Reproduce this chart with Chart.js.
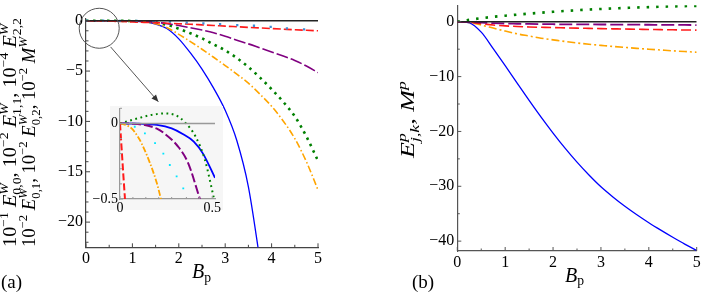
<!DOCTYPE html>
<html lang="en">
<head>
<meta charset="UTF-8">
<title>Energy corrections against B_p</title>
<script src="https://cdn.jsdelivr.net/npm/chart.js@4.4.0/dist/chart.umd.min.js"></script>
<style>
  body { margin: 0; background: #fff; }
  #wrap { position: relative; width: 706px; height: 298px; overflow: hidden; }
  canvas { position: absolute; }
</style>
</head>
<body>
<div id="wrap">
  <canvas id="chartA" width="345" height="298" style="left:0;top:0"></canvas>
  <canvas id="chartB" width="361" height="298" style="left:345px;top:0"></canvas>
  <canvas id="inset" width="150" height="115" style="left:80px;top:100px"></canvas>
</div>
<script>
// values
const Bp = [0, 0.25, 0.5, 0.75, 1, 1.25, 1.5, 1.75, 2, 2.25, 2.5, 2.75, 3, 3.25, 3.5, 3.75, 4, 4.25, 4.5, 4.75, 5];

// panel (a)
const aBlue   = [0, 0, 0, -0.01, -0.04, -0.1, -0.35, -0.8, -1.8, -3.2, -4.8, -6.7, -8.9, -11.9, -16.5, -23.8, null, null, null, null, null];
const aGreen  = [0, 0, 0, -0.01, -0.03, -0.08, -0.18, -0.42, -0.8, -1.25, -1.75, -2.35, -2.95, -3.7, -4.6, -5.65, -6.8, -8.05, -9.5, -11.5, -13.9];
const aOrange = [0, 0, -0.01, -0.01, -0.03, -0.1, -0.3, -0.7, -1.35, -2.07, -2.83, -3.63, -4.45, -5.3, -6.2, -7.3, -8.5, -9.95, -11.7, -14.0, -16.8];
const aPurple = [0, 0, 0, -0.01, -0.04, -0.08, -0.16, -0.3, -0.48, -0.7, -0.93, -1.2, -1.55, -1.93, -2.3, -2.7, -3.1, -3.5, -3.95, -4.5, -5.16];
const aRed    = [0, -0.02, -0.05, -0.08, -0.12, -0.16, -0.2, -0.25, -0.3, -0.35, -0.41, -0.47, -0.54, -0.6, -0.66, -0.72, -0.78, -0.84, -0.9, -0.95, -1.0];
const aDotsB  = [0.01, 0.37, 0.73, 1.09, 1.45, 1.81, 2.17, 2.53, 2.89, 3.26, 3.62, 3.98, 4.33, 4.7];
const aDotsV  = [0, 0, -0.01, -0.02, -0.05, -0.1, -0.2, -0.26, -0.33, -0.43, -0.5, -0.6, -0.76, -0.86];

// inset of (a)
const inBlueB   = [0, 0.1, 0.2, 0.28, 0.34, 0.4, 0.45, 0.515];
const inBlue    = [0, -0.002, -0.01, -0.033, -0.07, -0.12, -0.2, -0.36];
const inGreenB  = [0, 0.05, 0.1, 0.17, 0.235, 0.3, 0.35, 0.41, 0.46, 0.51];
const inGreen   = [0, 0.018, 0.035, 0.056, 0.066, 0.055, 0.01, -0.088, -0.24, -0.5];
const inPurpleB = [0, 0.06, 0.135, 0.2, 0.24, 0.316, 0.37, 0.433];
const inPurple  = [0, -0.002, -0.011, -0.035, -0.066, -0.155, -0.264, -0.5];
const inOrangeB = [0, 0.03, 0.063, 0.09, 0.117, 0.163, 0.2, 0.222];
const inOrange  = [0, -0.01, -0.033, -0.075, -0.132, -0.264, -0.396, -0.5];
const inRedB    = [0, 0.009, 0.018, 0.027];
const inRed     = [0, -0.17, -0.34, -0.5];
const inDotsB   = [0.03, 0.08, 0.135, 0.19, 0.235, 0.27, 0.307, 0.343];
const inDots    = [-0.003, -0.022, -0.066, -0.13, -0.2, -0.275, -0.35, -0.43];

// panel (b)
const bBlue   = [0, -0.2, -1.9, -4.9, -8.0, -11.2, -14.35, -17.4, -20.3, -23.05, -25.6, -27.95, -30.1, -31.95, -33.65, -35.2, -36.65, -38.0, -39.3, -40.55, -41.7];
const bGreen  = [0, 0.35, 0.65, 0.9, 1.1, 1.3, 1.48, 1.65, 1.82, 1.97, 2.1, 2.22, 2.33, 2.43, 2.52, 2.6, 2.67, 2.74, 2.8, 2.85, 2.9];
const bOrange = [0, -0.15, -0.6, -1.15, -1.7, -2.2, -2.6, -3.0, -3.3, -3.6, -3.87, -4.1, -4.3, -4.5, -4.68, -4.85, -5.0, -5.15, -5.3, -5.43, -5.55];
const bRed    = [0, -0.1, -0.35, -0.6, -0.75, -0.87, -0.95, -1.01, -1.07, -1.12, -1.17, -1.21, -1.25, -1.29, -1.33, -1.37, -1.4, -1.44, -1.47, -1.5, -1.53];
const bPurple = [0, -0.05, -0.15, -0.25, -0.32, -0.36, -0.4, -0.43, -0.45, -0.47, -0.48, -0.49, -0.5, -0.51, -0.52, -0.53, -0.55, -0.56, -0.57, -0.58, -0.6];

// ticks
const aXTicks = [0, 1, 2, 3, 4, 5];
const aXMinor = [0.5, 1.5, 2.5, 3.5, 4.5];
const aYTicks = [0, -5, -10, -15, -20];
const aYMinor = [-1, -2, -3, -4, -6, -7, -8, -9, -11, -12, -13, -14, -16, -17, -18, -19, -21, -22];
const bXTicks = [0, 1, 2, 3, 4, 5];
const bXMinor = [0.5, 1.5, 2.5, 3.5, 4.5];
const bYTicks = [0, -10, -20, -30, -40];
const bYMinor = [-5, -15, -25, -35];
const inXTicks = [0, 0.5];
const inXMinor = [0.07, 0.14, 0.21, 0.28, 0.36, 0.43];
const inYTicks = [0, -0.5];
const inYMinor = [0.1, -0.1, -0.2, -0.3, -0.4];

const SERIF = '"Liberation Serif", serif';
Chart.defaults.font.family = SERIF;
const fmt = v => (v < 0 ? '\u2212' + Math.abs(v) : String(v));

function line(xs, ys, color, width, dash) {
  return {
    data: xs.map((x, i) => ({ x: x, y: ys[i] })),
    borderColor: color, borderWidth: width, borderDash: dash || [],
    borderCapStyle: 'butt', pointRadius: 0, fill: false,
    cubicInterpolationMode: 'monotone'
  };
}
function dots(xs, ys, color, r) {
  return {
    data: xs.map((x, i) => ({ x: x, y: ys[i] })),
    showLine: false, pointStyle: 'rect', pointRadius: r,
    pointBackgroundColor: color, pointBorderWidth: 0
  };
}

// inward tick marks
function tickMarks(xMaj, xMin, yMaj, yMin, color, big, small) {
  return {
    id: 'tickMarks',
    afterDatasetsDraw(chart) {
      const { ctx, chartArea: a, scales: { x, y } } = chart;
      ctx.save();
      ctx.strokeStyle = color;
      ctx.lineWidth = 1;
      const mark = (vals, len, horiz) => vals.forEach(v => {
        ctx.beginPath();
        if (horiz) {
          const p = x.getPixelForValue(v);
          ctx.moveTo(p, a.bottom); ctx.lineTo(p, a.bottom - len);
        } else {
          const p = y.getPixelForValue(v);
          ctx.moveTo(a.left, p); ctx.lineTo(a.left + len, p);
        }
        ctx.stroke();
      });
      mark(xMaj, big, true); mark(xMin, small, true);
      mark(yMaj, big, false); mark(yMin, small, false);
      ctx.restore();
    }
  };
}

// text with super / subscripts
function font(sz, it) { return (it ? 'italic ' : '') + sz + 'px ' + SERIF; }
function runRich(ctx, parts, sz, draw) {
  let x = 0;
  const s2 = sz * 0.68;
  parts.forEach(p => {
    if (p.t) {
      ctx.font = font(sz, p.i);
      if (draw) ctx.fillText(p.t, x, 0);
      x += ctx.measureText(p.t).width;
    }
    let w = 0;
    if (p.up) {
      ctx.font = font(s2, p.ui);
      if (draw) ctx.fillText(p.up, x, -sz * 0.42);
      w = Math.max(w, ctx.measureText(p.up).width);
    }
    if (p.dn) {
      ctx.font = font(s2, p.di);
      if (draw) ctx.fillText(p.dn, x, sz * (p.dy || 0.28));
      w = Math.max(w, ctx.measureText(p.dn).width);
    }
    x += w;
  });
  return x;
}
function drawRich(ctx, parts, sz, x, y, rot, len) {
  ctx.save();
  ctx.translate(x, y);
  ctx.rotate(rot);
  ctx.textAlign = 'left';
  ctx.textBaseline = 'alphabetic';
  ctx.fillStyle = '#000';
  const w = runRich(ctx, parts, sz, false);
  if (len) ctx.scale(len / w, 1);
  runRich(ctx, parts, sz, true);
  ctx.restore();
}

const titleA1 = [
  { t: '10', up: '\u22121' }, { t: ' ' }, { t: 'E', i: 1, up: 'W', ui: 1, dn: '0,0' },
  { t: ', 10', up: '\u22122' }, { t: ' ' }, { t: 'E', i: 1, up: 'W', ui: 1, dn: '1,1' },
  { t: ', 10', up: '\u22124' }, { t: ' ' }, { t: 'E', i: 1, up: 'W', ui: 1, dn: '2,2' }
];
const titleA2 = [
  { t: '10', up: '\u22122' }, { t: ' ' }, { t: 'E', i: 1, up: 'W', ui: 1, dn: '0,1' },
  { t: ', 10', up: '\u22122' }, { t: ' ' }, { t: 'E', i: 1, up: 'W', ui: 1, dn: '0,2' },
  { t: ', 10', up: '\u22122' }, { t: ' ' }, { t: 'M', i: 1, up: 'W', ui: 1 }
];
const titleB = [
  { t: 'E', i: 1, up: 'p', ui: 1, dn: 'j,k', di: 1 }, { t: ', ' }, { t: 'M', i: 1, up: 'p', ui: 1 }
];
const xTitle = [{ t: 'B', i: 1, dn: 'p', dy: 0.18 }];

const decoA = {
  id: 'decoA',
  afterDraw(chart) {
    const { ctx, scales: { x, y } } = chart;
    drawRich(ctx, titleA1, 18, 16, 247, -Math.PI / 2, 229);
    drawRich(ctx, titleA2, 18, 35, 247, -Math.PI / 2, 210);
    drawRich(ctx, xTitle, 20, 192, 278, 0);
    ctx.save();
    ctx.fillStyle = '#000';
    ctx.font = font(19, false);
    ctx.fillText('(a)', 1, 288);
    // zoom circle and arrow
    ctx.strokeStyle = '#555';
    ctx.fillStyle = '#333';
    ctx.lineWidth = 1;
    ctx.beginPath();
    ctx.arc(x.getPixelForValue(0.285), y.getPixelForValue(-0.75), 20, 0, 2 * Math.PI);
    ctx.stroke();
    const x0 = x.getPixelForValue(0.53), y0 = y.getPixelForValue(-2.6);
    const x1 = x.getPixelForValue(1.56), y1 = y.getPixelForValue(-8.05);
    const ang = Math.atan2(y1 - y0, x1 - x0);
    ctx.beginPath(); ctx.moveTo(x0, y0); ctx.lineTo(x1, y1); ctx.stroke();
    ctx.beginPath();
    ctx.moveTo(x1, y1);
    ctx.lineTo(x1 - 7 * Math.cos(ang) + 3 * Math.sin(ang), y1 - 7 * Math.sin(ang) - 3 * Math.cos(ang));
    ctx.lineTo(x1 - 7 * Math.cos(ang) - 3 * Math.sin(ang), y1 - 7 * Math.sin(ang) + 3 * Math.cos(ang));
    ctx.closePath(); ctx.fill();
    ctx.restore();
  }
};

const decoB = {
  id: 'decoB',
  afterDraw(chart) {
    const ctx = chart.ctx;
    drawRich(ctx, titleB, 19, 69, 158, -Math.PI / 2, 77);
    drawRich(ctx, xTitle, 20, 220, 281.5, 0);
    ctx.save();
    ctx.fillStyle = '#000';
    ctx.font = font(19, false);
    ctx.fillText('(b)', 67, 288);
    ctx.restore();
  }
};

const insetBg = {
  id: 'insetBg',
  beforeDraw(chart) {
    const ctx = chart.ctx;
    ctx.save();
    ctx.fillStyle = '#f6f6f6';
    ctx.fillRect(30, 6, 113, 104);
    ctx.restore();
  }
};

function axes(xmin, xmax, ymin, ymax, xT, yT, xH, yW, color, fsize, pad) {
  const f = { family: SERIF, size: fsize };
  return {
    x: {
      type: 'linear', min: xmin, max: xmax,
      grid: { display: false, drawTicks: false },
      border: { color: color, width: 1.2 },
      ticks: { font: f, color: '#000', padding: pad, autoSkip: false, maxRotation: 0, callback: fmt },
      afterBuildTicks: s => { s.ticks = xT.map(v => ({ value: v })); },
      afterFit: s => { s.height = xH; s.paddingLeft = 0; s.paddingRight = 0; }
    },
    y: {
      type: 'linear', min: ymin, max: ymax,
      grid: { display: false, drawTicks: false },
      border: { color: color, width: 1.2 },
      ticks: { font: f, color: '#000', padding: pad + 1, autoSkip: false, callback: fmt },
      afterBuildTicks: s => { s.ticks = yT.map(v => ({ value: v })); },
      afterFit: s => { s.width = yW; s.paddingTop = 0; s.paddingBottom = 0; }
    }
  };
}

const common = {
  responsive: false, animation: false, devicePixelRatio: 1,
  plugins: { legend: { display: false }, tooltip: { enabled: false } }
};

new Chart(document.getElementById('chartA'), {
  type: 'line',
  data: {
    datasets: [
      line([0, 5], [0, 0], '#222', 1.6),
      dots(aDotsB, aDotsV, '#3d8ed6', 1.6),
      line(Bp, aRed, '#ff1a1a', 1.6, [8, 3]),
      line(Bp, aPurple, '#800080', 1.6, [12, 3]),
      line(Bp, aOrange, '#ffa500', 1.6, [7, 2.5, 1.5, 2.5]),
      line(Bp, aGreen, '#008000', 2.6, [2.5, 4.5]),
      line(Bp, aBlue, '#0000ff', 1.3)
    ]
  },
  options: Object.assign({}, common, {
    layout: { padding: { left: 0, top: 18.2, right: 27, bottom: 0 } },
    scales: axes(0, 5, -22.5, 0.25, aXTicks, aYTicks, 50.7, 86, '#444', 16, 2)
  }),
  plugins: [tickMarks(aXTicks, aXMinor, aYTicks, aYMinor, '#444', 4, 2.5), decoA]
});

new Chart(document.getElementById('chartB'), {
  type: 'line',
  data: {
    datasets: [
      line([0, 5], [0, 0], '#222', 1.6),
      line(Bp, bPurple, '#800080', 1.8, [13, 4]),
      line(Bp, bRed, '#ff1a1a', 1.6, [10, 4]),
      line(Bp, bOrange, '#ffa500', 1.6, [8, 3, 2, 3]),
      line(Bp, bGreen, '#008000', 2.6, [2.5, 7]),
      line(Bp, bBlue, '#0000ff', 1.3)
    ]
  },
  options: Object.assign({}, common, {
    layout: { padding: { left: 0, top: 5.3, right: 9.3, bottom: 0 } },
    scales: axes(0, 5, -41.8, 3, bXTicks, bYTicks, 47, 112.3, '#555', 16, 2)
  }),
  plugins: [tickMarks(bXTicks, bXMinor, bYTicks, bYMinor, '#555', 4, 2.5), decoB]
});

new Chart(document.getElementById('inset'), {
  type: 'line',
  data: {
    datasets: [
      line([0, 0.515], [0, 0], '#999', 1.5),
      line(inRedB, inRed, '#ff1a1a', 2, [7, 3]),
      line(inOrangeB, inOrange, '#ffa500', 1.8, [6, 2, 1.5, 2]),
      dots(inDotsB, inDots, '#00e5ff', 1.3),
      line(inPurpleB, inPurple, '#800080', 2, [9, 3]),
      line(inGreenB, inGreen, '#008000', 2, [1.8, 3.5]),
      line(inBlueB, inBlue, '#0000ff', 1.8)
    ]
  },
  options: Object.assign({}, common, {
    layout: { padding: { left: 0, top: 8.3, right: 15, bottom: 0 } },
    scales: axes(0, 0.515, -0.5, 0.1, inXTicks, inYTicks, 16, 40, '#999', 14, 1)
  }),
  plugins: [insetBg, tickMarks(inXTicks, inXMinor, inYTicks, inYMinor, '#999', 3, 2)]
});
</script>
</body>
</html>
